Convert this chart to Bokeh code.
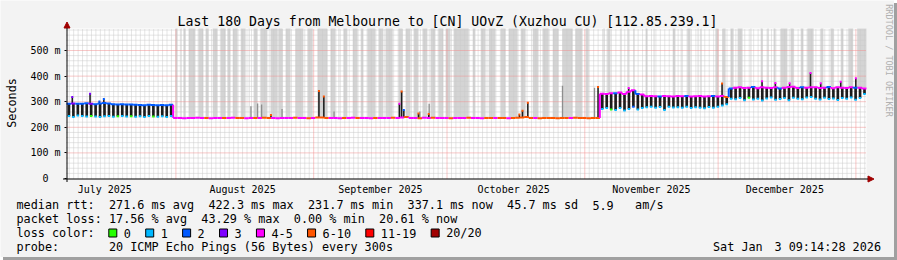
import math
from bokeh.plotting import figure
from bokeh.models import Range1d, FixedTicker, Label, Arrow, NormalHead, BoxAnnotation
from bokeh.embed import file_html
from bokeh.resources import INLINE

# ---------------- texts ----------------
TITLE = "Last 180 Days from Melbourne to [CN] UOvZ (Xuzhou CU) [112.85.239.1]"
Y_LABEL = "Seconds"
WATERMARK = "RRDTOOL / TOBI OETIKER"

# x is measured in days since the window start (Jul 7 2025 09:14:28)
month_tick_days = [8.615, 39.615, 70.615, 100.615, 131.615, 161.615]
month_labels = ["July 2025", "August 2025", "September 2025", "October 2025",
                "November 2025", "December 2025"]
month_start_days = [24.615, 55.615, 85.615, 116.615, 146.615, 177.615]
first_midnight = 0.615
n_days = 180

y_ticks = [0, 100, 200, 300, 400, 500]
y_tick_labels = ["0  ", "100 m", "200 m", "300 m", "400 m", "500 m"]
y_minor_step = 20
y_max = 586

rtt_head = "median rtt:"
rtt_stats = ["271.6 ms avg", "422.3 ms max", "231.7 ms min", "337.1 ms now", "45.7 ms sd", "5.9", "am/s"]
rtt_gaps = [2, 2, 2, 2, 2, 3]
loss_head = "packet loss:"
loss_stats = ["17.56 % avg", "43.29 % max", "0.00 % min", "20.61 % now"]
color_head = "loss color:"
loss_labels = ["0", "1", "2", "3", "4-5", "6-10", "11-19", "20/20"]
loss_colors = ["#26ff00", "#00b8ff", "#0059ff", "#7e00ff", "#ff00ff", "#ff5500", "#ff0000", "#a10000"]
probe_head = "probe:"
probe_text = "20 ICMP Echo Pings (56 Bytes) every 300s"
date_a = "Sat Jan"
date_b = "3 09:14:28 2026"

# loss category = index into loss_colors (0,1,2,3,4:4-5,5:6-10,6:11-19,7:20/20)

# ---------------- median rtt per day (ms) ----------------
# period 1: Jul 7 - Jul 30  (line level and daily dip)
p1_base = [292, 293, 292, 292, 294, 292, 290, 293, 295, 293, 290, 289,
           290, 289, 289, 288, 287, 286, 288, 287, 286, 287, 286, 288]
p1_dip = [244, 240, 246, 244, 242, 244, 242, 240, 243, 244, 241, 243,
          244, 242, 243, 241, 243, 240, 244, 242, 241, 243, 240, 244]
p1_base_loss = [2, 3, 2, 2, 2, 3, 2, 2, 2, 2, 2, 2, 2, 2, 2, 2, 2, 2, 2, 2, 2, 2, 2, 2]
p1_dip_loss = [1, 1, 1, 1, 1, 0, 1, 1, 1, 1, 1, 0, 1, 1, 0, 1, 1, 1, 1, 0, 1, 1, 1, 1]

# period 2: Jul 31 - Nov 3 (flat, lossy)
p2_base = [236, 236, 235, 236, 236, 237, 236, 236, 235, 236, 236, 236,
           236, 237, 236, 236, 235, 236, 236, 236, 237, 236, 236, 235,
           236, 236, 236, 237, 236, 236, 235, 236, 238, 238, 236, 236,
           236, 235, 236, 236, 237, 236, 236, 236, 235, 236, 236, 236,
           236, 237, 236, 238, 240, 236, 236, 235, 237, 236, 237, 236,
           236, 236, 235, 236, 236, 236, 237, 236, 236, 235, 236, 236,
           236, 236, 236, 235, 236, 237, 238, 240, 236, 236, 235, 236,
           236, 236, 235, 236, 236, 236, 237, 236, 236, 235, 236, 236]
p2_loss = [4, 4, 4, 4, 4, 4, 4, 5, 4, 4, 4, 5,
           4, 4, 5, 5, 4, 4, 5, 4, 5, 5, 4, 4,
           4, 4, 4, 5, 4, 4, 5, 4, 5, 5, 5, 4,
           4, 4, 5, 4, 4, 5, 4, 4, 4, 5, 4, 4,
           4, 5, 4, 4, 5, 4, 4, 5, 4, 4, 5, 4,
           4, 4, 5, 4, 4, 4, 5, 4, 4, 4, 5, 5,
           4, 5, 5, 4, 5, 5, 5, 5, 5, 4, 5, 5,
           5, 5, 5, 5, 5, 4, 5, 5, 5, 5, 5, 5]

# period 3: Nov 3 - Dec 2
p3_base = [331, 330, 333, 333, 336, 330, 339, 345, 330, 328, 321, 322, 321, 320, 322,
           321, 320, 322, 321, 322, 320, 321, 322, 320, 321, 322, 320, 322, 318]
p3_dip = [272, 275, 270, 268, 275, 266, 272, 280, 270, 275, 278, 280, 276, 279, 268,
          280, 277, 278, 276, 280, 275, 278, 276, 274, 279, 276, 280, 285, 290]
p3_base_loss = [4, 4, 4, 2, 4, 4, 4, 4, 2, 4, 4, 4, 4, 2, 4, 4, 4, 4, 4, 2, 4, 4, 4, 4, 4, 2, 4, 4, 5]
p3_dip_loss = [1, 1, 0, 1, 1, 1, 1, 2, 1, 1, 1, 1, 1, 1, 1, 1, 1, 1, 1, 1, 1, 1, 1, 1, 1, 1, 1, 1, 1]

# period 4: Dec 2 - Jan 3
p4_base = [352, 355, 356, 354, 355, 357, 353, 356, 355, 354, 356, 352, 355, 357, 358, 354,
           356, 355, 356, 356, 354, 355, 357, 353, 356, 355, 354, 356, 355, 355, 352]
p4_dip = [312, 310, 314, 306, 315, 309, 312, 305, 313, 316, 308, 311, 314, 306, 315, 312,
          310, 316, 318, 312, 309, 315, 311, 313, 307, 314, 312, 316, 308, 314, 330]
p4_base_loss = [2, 4, 4, 4, 4, 2, 4, 4, 4, 4, 4, 2, 4, 4, 4, 4, 2, 4, 4, 4, 4, 4, 2, 4, 4, 4, 4, 4, 2, 4, 4]
p4_dip_loss = [1, 1, 1, 1, 0, 1, 1, 1, 1, 1, 1, 1, 1, 1, 1, 1, 1, 1, 1, 1, 1, 1, 1, 1, 1, 1, 1, 1, 1, 1, 1]

# short upward excursions of the median (day, ms, loss category)
spike_day = [1.3, 5.3, 7.4, 8.4, 46.0, 56.8, 57.9, 74.9, 75.4, 75.9, 79.2, 81.5, 101.9, 102.6,
             103.8, 119.6, 126.5, 147.5, 156.5, 159.5, 162.7, 167.4, 169.7, 174.2, 177.6]
spike_top = [318, 331, 301, 311, 248, 342, 320, 292, 340, 268, 254, 252, 250, 265,
             296, 357, 354, 371, 380, 373, 372, 412, 372, 378, 392]
spike_loss = [3, 3, 2, 2, 5, 5, 5, 4, 5, 2, 5, 5, 5, 5,
              5, 5, 4, 5, 4, 4, 4, 4, 4, 4, 4]

# grey smoke (spread of the individual pings)
smoke_day = [41.5, 43.0, 43.9, 48.5, 60.2, 79.5, 81.6, 111.6, 118.8]
smoke_top = [282, 293, 289, 272, 262, 262, 292, 362, 355]

# periods with unknown / lost pings (start day, end day)
gap_start = [24.5, 25.7, 26.3, 27.5, 29.7, 31.3, 32.9, 34.7, 36.2, 37.4, 39.2, 41.0, 42.1, 43.7,
             45.9, 47.7, 49.3, 51.5, 54.2, 56.5, 59.4, 61.2, 62.3, 64.4, 66.2, 67.7, 70.2, 71.8,
             74.7, 76.3, 78.1, 80.1, 81.9, 83.7, 85.3, 87.1, 91.4, 93.2, 95.0, 97.7, 99.5, 102.2,
             104.9, 107.1, 109.4, 111.6, 114.5, 116.8,
             120.8, 121.7, 124.7, 126.2, 127.6, 130.3, 132.1, 136.4, 138.2, 139.7, 142.0, 142.7,
             146.0, 147.6, 149.4, 151.0, 153.9, 156.2, 157.7, 159.1, 160.7, 162.9, 165.2, 166.7,
             169.7, 171.9, 174.2, 175.9, 177.9]
gap_end = [25.0, 25.9, 26.8, 29.0, 30.8, 32.0, 34.0, 35.8, 36.9, 38.5, 40.3, 41.2, 43.0, 45.2,
           47.5, 48.6, 50.4, 53.3, 55.4, 58.7, 60.5, 61.4, 63.2, 65.5, 66.8, 69.5, 71.3, 73.4,
           75.6, 77.4, 79.2, 81.2, 83.0, 84.8, 86.4, 90.5, 92.0, 94.3, 96.5, 98.8, 101.5, 103.3,
           106.2, 108.5, 110.7, 113.9, 116.1, 117.5,
           121.1, 122.4, 124.9, 126.5, 127.8, 130.7, 132.3, 137.0, 138.4, 140.4, 142.2, 142.9,
           146.7, 148.3, 150.1, 152.1, 154.1, 156.6, 158.0, 159.5, 162.2, 163.6, 165.8, 168.1,
           170.3, 172.6, 174.8, 177.0, 180.0]

# ---------------- assemble ----------------
base = p1_base + p2_base + p3_base + p4_base
dip = p1_dip + p2_base + p3_dip + p4_dip
base_loss = p1_base_loss + p2_loss + p3_base_loss + p4_base_loss
dip_loss = p1_dip_loss + p2_loss + p3_dip_loss + p4_dip_loss


def base_at(d):
    return base[max(0, min(int(d), n_days - 1))]


# ---------------- layout (pixels) ----------------
W, H = 894, 257
FL, FR, FT, FB = 66, 866, 28, 178      # data area inside the canvas
MONO = "DejaVu Sans Mono"


def dx(px):
    return (px - FL) * n_days / (FR - FL)


def dy(py):
    return (FB - py) * y_max / (FB - FT)


# the frame covers the whole canvas; the data area is the 0..180 day / 0..586 ms region
p = figure(width=W, height=H, x_range=Range1d(dx(0), dx(W)), y_range=Range1d(dy(H), dy(0)),
           output_backend="svg", toolbar_location=None, tools="")
p.min_border_left = 0
p.min_border_right = 0
p.min_border_top = 0
p.min_border_bottom = 0
p.background_fill_color = "#f3f3f3"
p.border_fill_color = "#f3f3f3"
p.outline_line_color = None
p.styles = {"box-shadow": "3px 3px 0px 0px #a0a0a0"}
p.xgrid.visible = False
p.ygrid.visible = False

# axes, fixed at the data origin
p.yaxis.fixed_location = 0
p.yaxis.ticker = FixedTicker(ticks=y_ticks)
p.yaxis.major_label_overrides = {t: s for t, s in zip(y_ticks, y_tick_labels)}
p.yaxis.axis_line_color = None
p.yaxis.major_tick_out = 2
p.yaxis.major_tick_in = 0
p.yaxis.major_tick_line_color = "#000000"
p.yaxis.minor_tick_line_color = None
p.yaxis.major_label_standoff = 4
p.yaxis.major_label_text_font = MONO
p.yaxis.major_label_text_font_size = "10px"
p.yaxis.major_label_text_color = "#000000"

p.xaxis.fixed_location = 0
p.xaxis.ticker = FixedTicker(ticks=month_tick_days)
p.xaxis.major_label_overrides = {t: s for t, s in zip(month_tick_days, month_labels)}
p.xaxis.axis_line_color = None
p.xaxis.major_tick_line_color = None
p.xaxis.minor_tick_line_color = None
p.xaxis.major_label_standoff = -1
p.xaxis.major_label_text_font = MONO
p.xaxis.major_label_text_font_size = "10px"
p.xaxis.major_label_text_color = "#000000"

# white data area
p.quad(left=[0], right=[n_days], bottom=[0], top=[y_max], fill_color="#ffffff", line_color=None)

# unknown periods (grey columns)
p.quad(left=gap_start, right=gap_end, bottom=[base_at(s) for s in gap_start],
       top=[y_max] * len(gap_start), fill_color="#d4d4d4", line_color=None)

# grid
x_minor = [first_midnight + k for k in range(n_days) if first_midnight + k < n_days]
x_minor = [v for v in x_minor if all(abs(v - m) > 0.01 for m in month_start_days)]
y_minor = [v for v in range(y_minor_step, y_max, y_minor_step) if v % 100 != 0]
p.segment(x0=x_minor, x1=x_minor, y0=[0] * len(x_minor), y1=[y_max] * len(x_minor),
          line_color="#cacaca", line_dash="1 1", line_width=1)
p.segment(x0=[0] * len(y_minor), x1=[n_days] * len(y_minor), y0=y_minor, y1=y_minor,
          line_color="#cacaca", line_dash="1 1", line_width=1)
p.segment(x0=month_start_days, x1=month_start_days, y0=[0] * 6, y1=[y_max] * 6,
          line_color="#f09090", line_dash="1 1", line_width=1)
p.segment(x0=[0] * 5, x1=[n_days] * 5, y0=y_ticks[1:], y1=y_ticks[1:],
          line_color="#f09090", line_dash="1 1", line_width=1)

# smoke
p.vbar(x=smoke_day, width=0.3, bottom=[base_at(d) for d in smoke_day], top=smoke_top,
       fill_color="#8e8e8e", line_color=None)

# daily dips (dark smoke between median and dip)
idx = [d for d in range(n_days) if dip[d] < base[d]]
bar_x = [d + 0.55 for d in idx]
bar_lo = [dip[d] for d in idx]
bar_hi = [base[d] for d in idx]
bar_c = [loss_colors[dip_loss[d]] for d in idx]
p.vbar(x=bar_x, width=0.6, bottom=bar_lo, top=bar_hi, fill_color="#1c1c1c", line_color=None)

# spikes
p.vbar(x=spike_day, width=0.35, bottom=[base_at(d) for d in spike_day], top=spike_top,
       fill_color="#1c1c1c", line_color=None)

# median line, coloured by loss
seg_x0 = list(range(n_days))
seg_x1 = [d + 1 for d in range(n_days)]
seg_c = [loss_colors[c] for c in base_loss]
p.segment(x0=seg_x0, y0=base, x1=seg_x1, y1=base, line_color=seg_c, line_width=2)
p.segment(x0=seg_x0[1:], y0=base[:-1], x1=seg_x0[1:], y1=base[1:], line_color=seg_c[1:], line_width=2)

# dip and spike markers
p.rect(x=bar_x, y=bar_lo, width=0.55, height=2, height_units="screen",
       fill_color=bar_c, line_color=None)
p.rect(x=spike_day, y=spike_top, width=0.45, height=2, height_units="screen",
       fill_color=[loss_colors[c] for c in spike_loss], line_color=None)

# axis lines with arrow heads
head = dict(size=6, fill_color="#a00000", line_color="#a00000", line_width=1)
p.add_layout(Arrow(end=NormalHead(**head), x_start=dx(66.5), y_start=dy(181.5),
                   x_end=dx(66.5), y_end=dy(21.5), line_color="#000000", line_width=1))
p.add_layout(Arrow(end=NormalHead(**head), x_start=dx(62.5), y_start=dy(178.5),
                   x_end=dx(873.5), y_end=dy(178.5), line_color="#000000", line_width=1))

TEXT_SHIFT = -3  # bokeh's text baseline sits a little lower than rrdtool's


def label(s, px, py, size="11.8px", align="left", baseline="alphabetic", angle=0.0, color="#000000"):
    p.add_layout(Label(x=dx(px), y=dy(py + TEXT_SHIFT), text=s, text_font=MONO, text_font_size=size,
                       text_align=align, text_baseline=baseline, angle=angle, text_color=color))


label(TITLE, 447, 24, size="13.2px", align="center")
label(Y_LABEL, 11, 105.5, align="center", baseline="middle", angle=math.pi / 2)
label(WATERMARK, 888, 63, size="8.5px", align="center", baseline="middle", angle=-math.pi / 2,
      color="#b0b0b0")

CW = 7.11
X0 = 16
rows = [207.5, 221.5, 235.5, 249.5]

label(rtt_head, X0, rows[0])
col = 13
for i, s in enumerate(rtt_stats):
    label(s, X0 + col * CW, rows[0])
    if i < len(rtt_gaps):
        col += len(s) + rtt_gaps[i]

label(loss_head, X0, rows[1])
col = 13
for s in loss_stats:
    label(s, X0 + col * CW, rows[1])
    col += len(s) + 2

label(color_head, X0, rows[2])
bx = 108.3
for s, c in zip(loss_labels, loss_colors):
    p.add_layout(BoxAnnotation(left=dx(bx), right=dx(bx + 8), top=dy(228.5), bottom=dy(236.5),
                               fill_color=c, fill_alpha=1.0, line_color="#000000", line_width=1,
                               line_alpha=1.0))
    label(s, bx + 15, rows[2])
    bx += 15 + len(s) * CW + 14.8

label(probe_head, X0, rows[3])
label(probe_text, X0 + 13 * CW, rows[3])
label(date_a, 712.5, rows[3])
label(date_b, 880.5, rows[3], align="right")

open("out.html", "w").write(file_html(p, INLINE))
